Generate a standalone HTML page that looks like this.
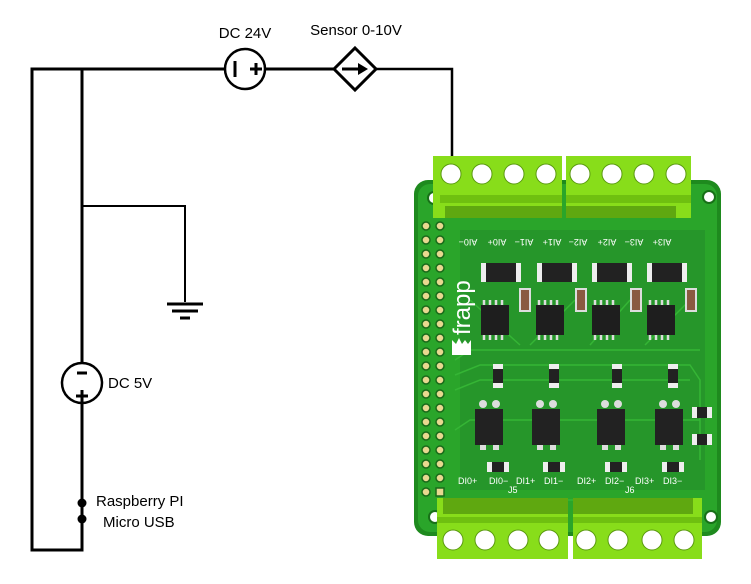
<!DOCTYPE html>
<html><head><style>
html,body{margin:0;padding:0;background:#fff;}
svg{display:block;}
</style></head><body>
<svg width="751" height="584" viewBox="0 0 751 584" xmlns="http://www.w3.org/2000/svg" font-family="Liberation Sans, sans-serif">
<!-- schematic wires -->
<g stroke="#000" stroke-width="3" fill="none">
<polyline points="82,69 32,69 32,550 82,550 82,401"/>
<polyline points="82,69 82,362"/>
<line x1="82" y1="69" x2="225" y2="69"/>
<line x1="265" y1="69" x2="334" y2="69"/>
<polyline points="376,69 452,69 452,160" stroke-width="2.5"/>
<polyline points="82,206 185,206 185,302" stroke-width="2"/>
<line x1="167" y1="304" x2="203" y2="304" stroke-width="3"/>
<line x1="172" y1="311" x2="198" y2="311" stroke-width="3"/>
<line x1="180" y1="318" x2="190" y2="318" stroke-width="3"/>
<circle cx="245" cy="69" r="20" stroke-width="2.5" fill="#fff"/>
<polygon points="355,48 376,69 355,90 334,69" stroke-width="3" fill="#fff"/>
<circle cx="82" cy="383" r="20" stroke-width="2.5" fill="#fff"/>
</g>
<g stroke="#000" stroke-width="3">
<line x1="235" y1="61" x2="235" y2="77"/>
<line x1="250" y1="69" x2="262" y2="69"/><line x1="256" y1="63" x2="256" y2="75"/>
<line x1="342" y1="69" x2="360" y2="69"/>
<line x1="77" y1="373" x2="87" y2="373"/>
<line x1="76" y1="396" x2="88" y2="396"/><line x1="82" y1="390" x2="82" y2="402"/>
</g>
<polygon points="358,63 368,69 358,75" fill="#000"/>
<circle cx="82" cy="503" r="4.5" fill="#000"/>
<circle cx="82" cy="519" r="4.5" fill="#000"/>
<g font-size="15" fill="#000" font-family="Liberation Sans, DejaVu Sans, sans-serif">
<text x="245" y="38" text-anchor="middle">DC 24V</text>
<text x="356" y="35" text-anchor="middle">Sensor 0-10V</text>
<text x="108" y="388">DC 5V</text>
<text x="96" y="506">Raspberry PI</text>
<text x="103" y="527">Micro USB</text>
</g>

<!-- PCB -->
<rect x="414" y="180" width="307" height="356" rx="14" fill="#1e8a1e"/>
<rect x="418" y="184" width="299" height="348" rx="12" fill="#2aa52a"/>
<rect x="460" y="230" width="245" height="260" fill="#26962a"/>
<g stroke="#35b535" stroke-width="1.5" fill="none">
<path d="M455 360 L470 350 L700 350 M455 375 L480 365 L690 365 L700 380 L700 460 M455 390 L480 380 L690 380 M455 430 L470 420 L700 420 M455 500 L700 500 M470 300 L520 345 M530 345 L575 300 M590 345 L630 300 M645 345 L690 300"/>
</g>
<g fill="#fff" stroke="#187018" stroke-width="2">
<circle cx="434" cy="198" r="6"/><circle cx="709" cy="197" r="6"/>
<circle cx="435" cy="517" r="6"/><circle cx="711" cy="517" r="6"/>
</g>
<!-- header pins -->
<g fill="#e8d890" stroke="#1a6a1a" stroke-width="1.5">
<circle cx="426" cy="226" r="4"/><circle cx="440" cy="226" r="4"/>
<circle cx="426" cy="240" r="4"/><circle cx="440" cy="240" r="4"/>
<circle cx="426" cy="254" r="4"/><circle cx="440" cy="254" r="4"/>
<circle cx="426" cy="268" r="4"/><circle cx="440" cy="268" r="4"/>
<circle cx="426" cy="282" r="4"/><circle cx="440" cy="282" r="4"/>
<circle cx="426" cy="296" r="4"/><circle cx="440" cy="296" r="4"/>
<circle cx="426" cy="310" r="4"/><circle cx="440" cy="310" r="4"/>
<circle cx="426" cy="324" r="4"/><circle cx="440" cy="324" r="4"/>
<circle cx="426" cy="338" r="4"/><circle cx="440" cy="338" r="4"/>
<circle cx="426" cy="352" r="4"/><circle cx="440" cy="352" r="4"/>
<circle cx="426" cy="366" r="4"/><circle cx="440" cy="366" r="4"/>
<circle cx="426" cy="380" r="4"/><circle cx="440" cy="380" r="4"/>
<circle cx="426" cy="394" r="4"/><circle cx="440" cy="394" r="4"/>
<circle cx="426" cy="408" r="4"/><circle cx="440" cy="408" r="4"/>
<circle cx="426" cy="422" r="4"/><circle cx="440" cy="422" r="4"/>
<circle cx="426" cy="436" r="4"/><circle cx="440" cy="436" r="4"/>
<circle cx="426" cy="450" r="4"/><circle cx="440" cy="450" r="4"/>
<circle cx="426" cy="464" r="4"/><circle cx="440" cy="464" r="4"/>
<circle cx="426" cy="478" r="4"/><circle cx="440" cy="478" r="4"/>
<circle cx="426" cy="492" r="4"/><rect x="436" y="488" width="8" height="8"/>
</g>
<!-- frapp logo -->
<text x="0" y="0" transform="translate(470,335) rotate(-90)" font-size="24" fill="#fff">frapp</text>
<polygon points="452,355 452,340 456,344 459,338 462,344 465,340 468,344 471,340 471,355" fill="#fff"/>
<!-- resistors R1-R4 -->
<g>
<rect x="481" y="263" width="40" height="19" fill="#eee"/><rect x="486" y="263" width="30" height="19" fill="#222"/>
<rect x="537" y="263" width="40" height="19" fill="#eee"/><rect x="542" y="263" width="30" height="19" fill="#222"/>
<rect x="592" y="263" width="40" height="19" fill="#eee"/><rect x="597" y="263" width="30" height="19" fill="#222"/>
<rect x="647" y="263" width="40" height="19" fill="#eee"/><rect x="652" y="263" width="30" height="19" fill="#222"/>
</g>
<g fill="#8a5a40" stroke="#ddd" stroke-width="2">
<rect x="520" y="289" width="10" height="22"/><rect x="576" y="289" width="10" height="22"/>
<rect x="631" y="289" width="10" height="22"/><rect x="686" y="289" width="10" height="22"/>
</g>
<!-- ICs -->
<g fill="#1e1e1e">
<rect x="481" y="305" width="28" height="30"/><rect x="536" y="305" width="28" height="30"/>
<rect x="592" y="305" width="28" height="30"/><rect x="647" y="305" width="28" height="30"/>
</g>
<g stroke="#ddd" stroke-width="2.5">
<path d="M484 300v5M490 300v5M496 300v5M502 300v5M484 335v5M490 335v5M496 335v5M502 335v5"/>
<path d="M539 300v5M545 300v5M551 300v5M557 300v5M539 335v5M545 335v5M551 335v5M557 335v5"/>
<path d="M595 300v5M601 300v5M607 300v5M613 300v5M595 335v5M601 335v5M607 335v5M613 335v5"/>
<path d="M650 300v5M656 300v5M662 300v5M668 300v5M650 335v5M656 335v5M662 335v5M668 335v5"/>
</g>
<!-- small resistors -->
<g>
<rect x="493" y="364" width="10" height="24" fill="#eee"/><rect x="493" y="369" width="10" height="14" fill="#222"/>
<rect x="549" y="364" width="10" height="24" fill="#eee"/><rect x="549" y="369" width="10" height="14" fill="#222"/>
<rect x="612" y="364" width="10" height="24" fill="#eee"/><rect x="612" y="369" width="10" height="14" fill="#222"/>
<rect x="668" y="364" width="10" height="24" fill="#eee"/><rect x="668" y="369" width="10" height="14" fill="#222"/>
<rect x="692" y="407" width="20" height="11" fill="#eee"/><rect x="697" y="407" width="10" height="11" fill="#222"/>
<rect x="692" y="434" width="20" height="11" fill="#eee"/><rect x="697" y="434" width="10" height="11" fill="#222"/>
<rect x="487" y="462" width="22" height="10" fill="#eee"/><rect x="492" y="462" width="12" height="10" fill="#222"/>
<rect x="543" y="462" width="22" height="10" fill="#eee"/><rect x="548" y="462" width="12" height="10" fill="#222"/>
<rect x="605" y="462" width="22" height="10" fill="#eee"/><rect x="610" y="462" width="12" height="10" fill="#222"/>
<rect x="662" y="462" width="22" height="10" fill="#eee"/><rect x="667" y="462" width="12" height="10" fill="#222"/>
</g>
<!-- optocouplers -->
<g fill="#ddd">
<circle cx="483" cy="404" r="4"/><circle cx="496" cy="404" r="4"/>
<circle cx="540" cy="404" r="4"/><circle cx="553" cy="404" r="4"/>
<circle cx="605" cy="404" r="4"/><circle cx="618" cy="404" r="4"/>
<circle cx="663" cy="404" r="4"/><circle cx="676" cy="404" r="4"/>
<rect x="480" y="443" width="6" height="7"/><rect x="493" y="443" width="6" height="7"/>
<rect x="537" y="443" width="6" height="7"/><rect x="550" y="443" width="6" height="7"/>
<rect x="602" y="443" width="6" height="7"/><rect x="615" y="443" width="6" height="7"/>
<rect x="660" y="443" width="6" height="7"/><rect x="673" y="443" width="6" height="7"/>
</g>
<g fill="#222">
<rect x="475" y="409" width="28" height="36"/><rect x="532" y="409" width="28" height="36"/>
<rect x="597" y="409" width="28" height="36"/><rect x="655" y="409" width="28" height="36"/>
</g>
<!-- labels -->
<g font-size="9" fill="#fff">
<text x="458" y="484">DI0+</text><text x="489" y="484">DI0−</text>
<text x="516" y="484">DI1+</text><text x="544" y="484">DI1−</text>
<text x="577" y="484">DI2+</text><text x="605" y="484">DI2−</text>
<text x="635" y="484">DI3+</text><text x="663" y="484">DI3−</text>
<text x="508" y="493">J5</text><text x="625" y="493">J6</text>
</g>
<g font-size="9" fill="#fff" text-anchor="middle">
<text x="468" y="245" transform="rotate(180 468 242)">AI0−</text>
<text x="497" y="245" transform="rotate(180 497 242)">AI0+</text>
<text x="524" y="245" transform="rotate(180 524 242)">AI1−</text>
<text x="552" y="245" transform="rotate(180 552 242)">AI1+</text>
<text x="578" y="245" transform="rotate(180 578 242)">AI2−</text>
<text x="607" y="245" transform="rotate(180 607 242)">AI2+</text>
<text x="634" y="245" transform="rotate(180 634 242)">AI3−</text>
<text x="662" y="245" transform="rotate(180 662 242)">AI3+</text>
</g>
<!-- terminal blocks top -->
<g>
<rect x="433" y="156" width="129" height="62" fill="#88dd1a"/>
<rect x="566" y="156" width="125" height="62" fill="#88dd1a"/>
<rect x="440" y="195" width="122" height="8" fill="#6fc010"/>
<rect x="566" y="195" width="125" height="8" fill="#6fc010"/>
<rect x="445" y="206" width="117" height="12" fill="#5fa810"/>
<rect x="566" y="206" width="110" height="12" fill="#5fa810"/>
</g>
<g fill="#fff" stroke="#5a9a10" stroke-width="1">
<circle cx="451" cy="174" r="10"/><circle cx="482" cy="174" r="10"/><circle cx="514" cy="174" r="10"/><circle cx="546" cy="174" r="10"/>
<circle cx="580" cy="174" r="10"/><circle cx="612" cy="174" r="10"/><circle cx="644" cy="174" r="10"/><circle cx="676" cy="174" r="10"/>
</g>
<!-- terminal blocks bottom -->
<g>
<rect x="437" y="498" width="131" height="61" fill="#88dd1a"/>
<rect x="573" y="498" width="129" height="61" fill="#88dd1a"/>
<rect x="443" y="498" width="125" height="16" fill="#5fa810"/>
<rect x="573" y="498" width="120" height="16" fill="#5fa810"/>
<rect x="437" y="517" width="131" height="6" fill="#6fc010"/>
<rect x="573" y="517" width="129" height="6" fill="#6fc010"/>
</g>
<g fill="#fff" stroke="#5a9a10" stroke-width="1">
<circle cx="453" cy="540" r="10"/><circle cx="485" cy="540" r="10"/><circle cx="518" cy="540" r="10"/><circle cx="549" cy="540" r="10"/>
<circle cx="586" cy="540" r="10"/><circle cx="618" cy="540" r="10"/><circle cx="652" cy="540" r="10"/><circle cx="684" cy="540" r="10"/>
</g>
</svg>
</body></html>
